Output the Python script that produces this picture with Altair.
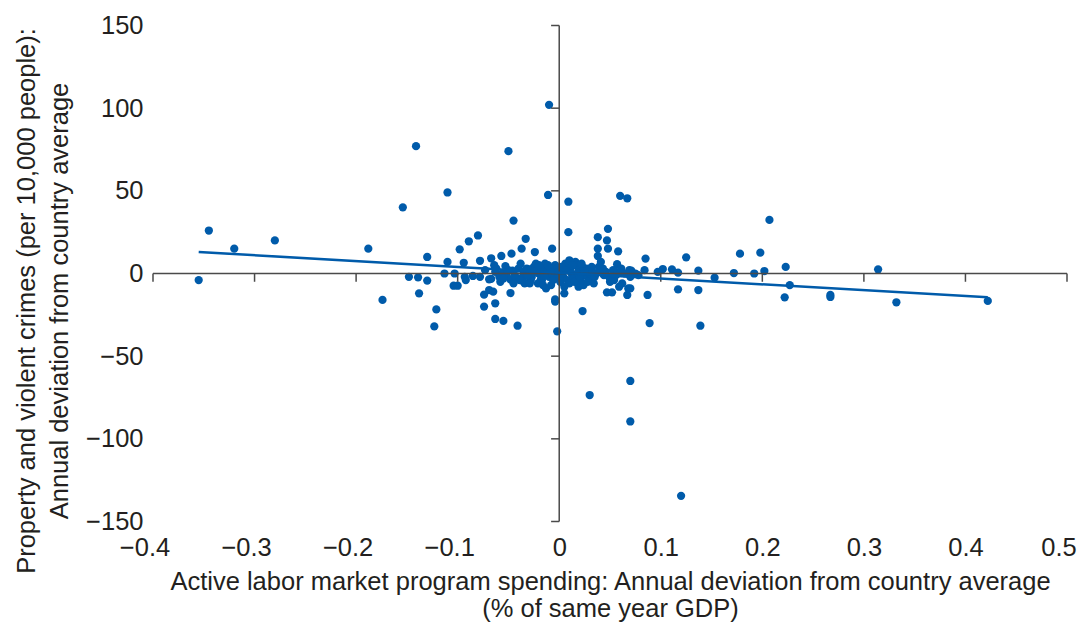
import altair as alt
import pandas as pd

# ---- data ----
x_left = [-0.355, -0.345, -0.320, -0.280, -0.188, -0.174, -0.154, -0.141, -0.148, -0.139,
          -0.130, -0.138, -0.130, -0.121, -0.123, -0.110, -0.113, -0.110, -0.103, -0.104,
          -0.100, -0.098, -0.094, -0.093, -0.092, -0.089, -0.085, -0.080, -0.078, -0.078,
          -0.074, -0.074, -0.073, -0.069, -0.069, -0.067, -0.067, -0.065, -0.064, -0.063,
          -0.063, -0.063, -0.059, -0.057, -0.056, -0.055, -0.053, -0.050, -0.048, -0.048,
          -0.047, -0.046, -0.046, -0.045, -0.043, -0.041, -0.037, -0.036, -0.035, -0.035,
          -0.034, -0.033, -0.033, -0.030, -0.027, -0.025, -0.024, -0.023, -0.020, -0.018,
          -0.017, -0.017, -0.013, -0.012, -0.011, -0.010, -0.010, -0.007, -0.007, -0.005,
          -0.004, -0.004, -0.004, -0.002, -0.002, -0.028, -0.021, -0.015, -0.009, -0.002,
          -0.040, -0.052, -0.014, -0.058, -0.031, -0.026, -0.019]
y_left = [-4, 26, 15, 20, 15, -16, 40, 77, -2, -2.3,
          -4.3, -12, 10, -21.7, -32, 49, 0, 7, 0, -7.4,
          -7.4, 14.6, 6.5, -2, -4, 19.5, -1.5, 23, 7.7, -2,
          -12.8, -20, 2, -3.5, -10, 9.2, -3.3, -11, 5, -18,
          -27.5, 1, -2, 10.6, 0, -28.7, 4.5, 74, -11.8, -3.7,
          12, 1.7, -3.5, 32, -2, -31.6, 15, -2, 1, -5,
          -6, 21, 2, 2.5, -2, 4, 13, 6, 0, -3.5,
          1, -4, -9, 3, 47.5, 102, -2, 15, 0, -1,
          5, -15.6, -17, 3, -35, -4, -6, -1, 2, -3,
          3, -1, 6, -5, -1, 1, 3]

x_right = [0.001, 0.003, 0.004, 0.005, 0.006, 0.008, 0.009, 0.009, 0.010, 0.010,
           0.011, 0.012, 0.014, 0.016, 0.017, 0.018, 0.019, 0.019, 0.021, 0.023,
           0.023, 0.024, 0.026, 0.027, 0.029, 0.030, 0.031, 0.033, 0.036, 0.038,
           0.038, 0.038, 0.039, 0.041, 0.044, 0.046, 0.047, 0.047, 0.048, 0.048,
           0.049, 0.052, 0.054, 0.055, 0.057, 0.058, 0.059, 0.060, 0.060, 0.062,
           0.067, 0.067, 0.068, 0.069, 0.070, 0.071, 0.070, 0.070, 0.070, 0.075,
           0.078, 0.084, 0.085, 0.087, 0.089, 0.097, 0.102, 0.111, 0.117, 0.117,
           0.120, 0.125, 0.137, 0.137, 0.139, 0.153, 0.172, 0.178, 0.192, 0.198,
           0.202, 0.207, 0.222, 0.223, 0.227, 0.267, 0.267, 0.314, 0.332, 0.422]
y_right = [-5, 2, -2, -12, 6, -4, 43.4, 25, -6, 8,
           3, 0, -3, 7, 5, 0, 2, -8, -4, 4,
           -22.7, -7, -1, 3, 2, -73.5, -3, 1, 0, 22,
           15, 10.6, 4, 7, -1, 1, 20, -11.4, 27, 15,
           -2, -11.4, -4, 1, 5.6, 13.4, -8, 47, 1, -6,
           45.5, -13, -9, 2, -2, 1.7, -9, -65, -89.5, 0,
           -1, 2, 9, -13, -30, 1, 2.7, 2.5, 0.5, -9.6,
           -134.5, 9.8, 1.7, -10, -31.6, -2.5, 0.3, 12, 0, 12.6,
           1.5, 32.4, -14.4, 4, -7, -13, -14.2, 2.5, -17.4, -16.6]

# the dense core around the origin
x_core = [-0.062, -0.055, -0.050, -0.044, -0.039, -0.032, -0.029, -0.024, -0.016, -0.011,
          -0.006, -0.001, 0.002, 0.007, 0.013, 0.015, 0.020, 0.025, 0.028, 0.032,
          0.035, 0.040, 0.043, 0.050, 0.053, 0.056, 0.061, 0.065, -0.045, -0.038,
          -0.020, -0.008, 0.005, 0.022, 0.034]
y_core = [3, -3, 2, -1, -4, 3, -6, 1, -7, 5,
          -4, 1, 4, 2, 5, -5, -2, 1, -5, 4,
          -2, 1, 3, -5, 2, -1, 3, 0, -6, 6,
          5, -7, -8, 6, -6]

# fitted line as drawn in the reference (end points)
trend_x = [-0.355, 0.422]
trend_y = [13.0, -14.4]

x_ticks = [-0.4, -0.3, -0.2, -0.1, 0.0, 0.1, 0.2, 0.3, 0.4, 0.5]
y_ticks = [-150, -100, -50, 0, 50, 100, 150]

x_title = ["Active labor market program spending: Annual deviation from country average",
           "(% of same year GDP)"]
y_title = ["Property and violent crimes (per 10,000 people):",
           "Annual deviation from country average"]

# ---- styling ----
BLUE = "#005baa"
TXT = "#231f20"
AXC = "#4a4a4a"
FONT = "Liberation Sans"
FS = 25.5

pts = pd.DataFrame({"x": x_left + x_right + x_core, "y": y_left + y_right + y_core})
trend = pd.DataFrame({"x": trend_x, "y": trend_y})
xt = pd.DataFrame({"x": x_ticks})
yt = pd.DataFrame({"y": y_ticks})
# axis lines along the data range
x_axis_df = pd.DataFrame({"x": [x_ticks[0]], "x1": [x_ticks[-1]], "y": [0]})
y_axis_df = pd.DataFrame({"y": [y_ticks[0]], "y1": [y_ticks[-1]], "x": [0]})

xscale = alt.Scale(domain=[-0.4, 0.5], nice=False, zero=False)
yscale = alt.Scale(domain=[-150, 150], nice=False, zero=False)

x_axis = alt.Axis(
    values=x_ticks,
    labelExpr="datum.value == 0 ? '0' : format(datum.value, '.1f')",
    domain=False, ticks=False, tickSize=0, grid=False, labelFlush=False,
    labelOffset={"condition": {"test": "datum.value < 0 || datum.value > 0.45", "value": -8.5},
                 "value": 0},
    labelPadding=14, labelFontSize=FS, labelFont=FONT, labelColor=TXT,
    title=x_title, titleFontSize=FS, titleFont=FONT, titleColor=TXT,
    titleFontWeight="normal", titlePadding=8, titleLineHeight=27,
)
y_axis = alt.Axis(
    values=y_ticks, format="d",
    domain=False, ticks=False, tickSize=0, grid=False, labelFlush=False,
    labelPadding=10, labelFontSize=FS, labelFont=FONT, labelColor=TXT,
    title=y_title, titleFontSize=FS, titleFont=FONT, titleColor=TXT,
    titleFontWeight="normal", titlePadding=13, titleLineHeight=33,
    titleY=275,
)

X = lambda f="x": alt.X(f"{f}:Q", scale=xscale, axis=x_axis, title=x_title)
Y = lambda f="y": alt.Y(f"{f}:Q", scale=yscale, axis=y_axis, title=y_title)

points = alt.Chart(pts).mark_circle(size=68, opacity=1, color=BLUE).encode(
    x=X(), y=Y(),
)

x_line = alt.Chart(x_axis_df).mark_rule(color=AXC, strokeWidth=1.5).encode(
    x=X(), x2="x1:Q", y=Y(),
)
y_line = alt.Chart(y_axis_df).mark_rule(color=AXC, strokeWidth=1.5).encode(
    x=X(), y=Y(), y2="y1:Q",
)
x_tick_marks = alt.Chart(xt).transform_calculate(
    y="0", y1="-5"
).mark_rule(color=AXC, strokeWidth=1.5).encode(
    x=X(), y=Y(), y2="y1:Q",
)
y_tick_marks = alt.Chart(yt).transform_calculate(
    x="-0.008", x1="0"
).mark_rule(color=AXC, strokeWidth=1.5).encode(
    y=Y(), x=X(), x2="x1:Q",
)

line = alt.Chart(trend).mark_line(color=BLUE, strokeWidth=2.5).encode(
    x=X(), y=Y(),
)

chart = alt.layer(
    points, x_line, y_line, x_tick_marks, y_tick_marks, line
).properties(
    width=914, height=496,
    autosize=alt.AutoSizeParams(type="none"),
    padding={"left": 145, "top": 17.5, "right": 11, "bottom": 101},
    background="white",
).configure_view(stroke=None)

chart.save("out.html", embed_options={"renderer": "svg", "actions": False})
